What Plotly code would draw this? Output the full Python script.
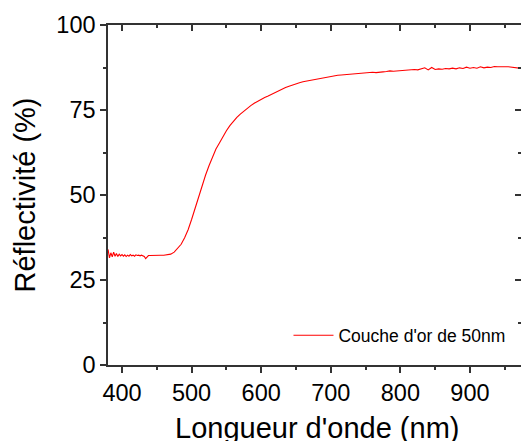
import plotly.graph_objects as go

# Wavelength (nm)
wavelength = [380, 382, 384, 386, 388, 390, 392, 394, 396, 398, 400, 402, 404, 406, 408,
              410, 412, 414, 416, 418, 420, 422, 424, 426, 428, 430, 432, 434, 436, 438, 440,
              445, 450, 455, 460, 465, 470, 475, 480, 485, 490, 495, 500, 505, 510, 515, 520,
              525, 530, 535, 540, 545, 550, 555, 560, 565, 570, 575, 580, 585, 590, 595, 600,
              605, 610, 615, 620, 625, 630, 635, 640, 645, 650, 655, 660, 665, 670, 675, 680,
              685, 690, 695, 700, 705, 710, 715, 720, 725, 730, 735, 740, 745, 750, 755, 760,
              765, 770, 775, 780, 785, 790, 795, 800, 805, 810, 815, 820, 825, 830, 835, 840,
              845, 850, 855, 860, 865, 870, 875, 880, 885, 890, 895, 900, 905, 910, 915, 920,
              925, 930, 935, 940, 945, 950, 955, 960, 965, 970, 975]
# Reflectivity (%)
reflectivity = [34.0, 31.5, 33.0, 31.8, 33.2, 32.0, 32.8, 31.9, 32.6, 32.1, 32.5, 32.0, 32.4, 31.9, 32.3,
                32.0, 32.5, 32.1, 32.3, 32.0, 32.4, 32.2, 32.3, 32.1, 32.3, 32.0, 31.9, 31.3, 31.8, 32.2, 32.2,
                32.3, 32.3, 32.3, 32.3, 32.4, 32.6, 33.2, 34.2, 35.5, 37.4, 39.8, 42.8, 46.2, 49.6, 52.8, 55.8,
                58.6, 61.1, 63.5, 65.3, 67.2, 68.9, 70.4, 71.7, 72.8, 73.8, 74.7, 75.5, 76.3, 77.0, 77.6, 78.2,
                78.7, 79.1, 79.6, 80.3, 80.8, 81.2, 81.6, 82.0, 82.4, 82.7, 83.0, 83.3, 83.5, 83.8, 84.0, 84.2,
                84.4, 84.6, 84.8, 85.0, 85.1, 85.2, 85.3, 85.4, 85.5, 85.5, 85.7, 85.7, 85.8, 85.9, 85.9, 86.1,
                86.0, 86.2, 86.2, 86.3, 86.5, 86.4, 86.5, 86.6, 86.5, 86.8, 86.7, 86.9, 86.8, 87.0, 87.4, 86.8,
                87.5, 86.9, 87.1, 87.0, 87.2, 87.1, 87.3, 87.1, 87.4, 87.2, 87.6, 87.3, 87.5, 87.3, 87.7, 87.4,
                87.6, 87.5, 87.8, 87.7, 87.8, 87.7, 87.7, 87.6, 87.6, 87.4, 87.2]

x_ticks = [400, 500, 600, 700, 800, 900]
y_ticks = [0, 25, 50, 75, 100]
x_range = [379.9, 973.3]
y_range = [0, 100]
x_title = "Longueur d'onde (nm)"
y_title = "Réflectivité (%)"
legend_label = "Couche d'or de 50nm"

FONT = "Arial, 'Liberation Sans', sans-serif"
AXC = "#333333"

fig = go.Figure()
fig.add_trace(go.Scatter(x=wavelength, y=reflectivity, mode="lines",
                         line=dict(color="#ff0000", width=1.1),
                         name=legend_label))
# helper trace for mirror axes (invisible)
fig.add_trace(go.Scatter(x=[x_range[0]], y=[y_range[0]], xaxis="x2", yaxis="y2",
                         mode="markers", marker=dict(opacity=0), showlegend=False,
                         hoverinfo="skip"))

fig.update_layout(
    width=521, height=441,
    margin=dict(l=108, r=0, t=25, b=76),
    paper_bgcolor="white", plot_bgcolor="white",
    font=dict(family=FONT, color="black"),
    showlegend=True,
    legend=dict(x=0.437, y=0.087, xanchor="left", yanchor="middle",
                bgcolor="rgba(0,0,0,0)", font=dict(size=17.5, family=FONT),
                itemwidth=40),
    xaxis=dict(range=x_range, tickvals=x_ticks, ticks="outside", ticklen=6, tickwidth=1.5,
               tickcolor=AXC, showline=True, linecolor=AXC, linewidth=1.5, showgrid=False,
               zeroline=False, tickfont=dict(size=23.5, family=FONT),
               minor=dict(tickvals=[450, 550, 650, 750, 850, 950], ticks="outside", ticklen=3,
                          tickwidth=1.5, tickcolor=AXC),
               automargin=False),
    yaxis=dict(range=y_range, tickvals=y_ticks, ticks="outside", ticklen=6, tickwidth=1.5,
               tickcolor=AXC, showline=True, linecolor=AXC, linewidth=1.5, showgrid=False,
               zeroline=False, tickfont=dict(size=23.5, family=FONT),
               minor=dict(tickvals=[12.5, 37.5, 62.5, 87.5], ticks="outside", ticklen=3,
                          tickwidth=1.5, tickcolor=AXC),
               title=dict(text=y_title, font=dict(size=29, family=FONT), standoff=12),
               automargin=False),
    xaxis2=dict(overlaying="x", side="top", range=x_range, tickvals=x_ticks, ticks="inside",
                ticklen=6, tickwidth=1.5, tickcolor=AXC, showticklabels=False, showline=True,
                linecolor=AXC, linewidth=1.5, showgrid=False, zeroline=False,
                minor=dict(tickvals=[450, 550, 650, 750, 850, 950], ticks="inside", ticklen=3,
                           tickwidth=1.5, tickcolor=AXC)),
    yaxis2=dict(overlaying="y", side="right", range=y_range, tickvals=y_ticks, ticks="inside",
                ticklen=6, tickwidth=1.5, tickcolor=AXC, showticklabels=False, showline=True,
                linecolor=AXC, linewidth=1.5, showgrid=False, zeroline=False,
                minor=dict(tickvals=[12.5, 37.5, 62.5, 87.5], ticks="inside", ticklen=3,
                           tickwidth=1.5, tickcolor=AXC)),
    annotations=[dict(text=x_title, xref="paper", yref="paper", x=0.505, y=-0.131,
                      xanchor="center", yanchor="top", showarrow=False,
                      font=dict(size=29, family=FONT, color="black"))],
)

fig.write_html("out.html", config={"displayModeBar": False},
               post_script="document.body.style.margin='0';document.body.style.overflow='hidden';")
